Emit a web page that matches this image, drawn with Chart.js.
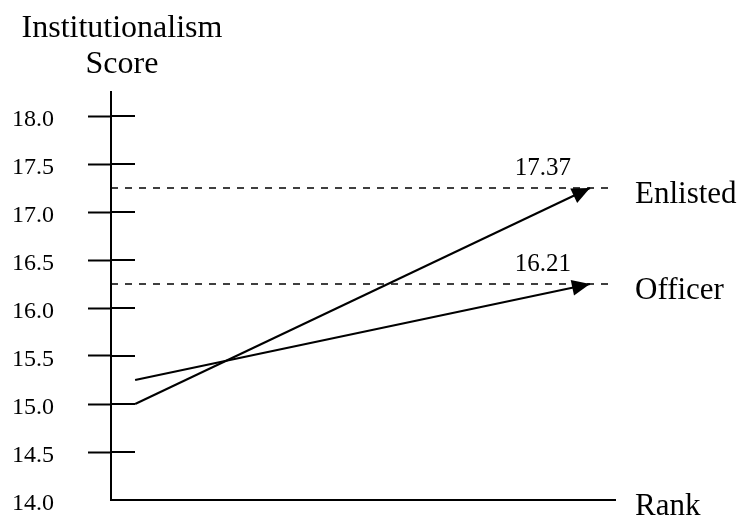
<!DOCTYPE html>
<html lang="en">
<head>
    <meta charset="UTF-8">
    <title>Institutionalism Score by Rank</title>
    <script src="https://cdn.jsdelivr.net/npm/chart.js"></script>
    <style>
        body {
            margin: 0;
            background: #fff;
        }
        .chart-container {
            position: relative;
            width: 742px;
            height: 519px;
        }
    </style>
</head>
<body>
    <div class="chart-container">
        <canvas id="rankChart"></canvas>
    </div>

    <script>
        // Data
        const yTicks = [14.0, 14.5, 15.0, 15.5, 16.0, 16.5, 17.0, 17.5, 18.0];
        const groups = ['Enlisted', 'Officer'];
        const startScores = [15.0, 15.25];     // left end of each arrow
        const endScores = [17.25, 16.25];      // arrow tips / dashed reference lines
        const endLabels = ['17.37', '16.21'];  // printed values
        const titleLines = ['Institutionalism', 'Score'];
        const xTitle = 'Rank';

        const X_MIN = -0.053, X_MAX = 1.055;
        const SERIF = "'Liberation Serif', 'Times New Roman', serif";

        const datasets = [];
        // dashed reference lines first so arrows sit on top
        endScores.forEach((v, i) => {
            datasets.push({
                label: groups[i] + ' ref',
                data: [{ x: X_MIN, y: v }, { x: X_MAX, y: v }],
                borderColor: '#000',
                borderWidth: 1.5,
                borderDash: [7, 7],
                pointRadius: 0,
                isRef: true
            });
        });
        groups.forEach((g, i) => {
            datasets.push({
                label: g,
                data: [{ x: 0, y: startScores[i] }, { x: 1, y: endScores[i] }],
                borderColor: '#000',
                borderWidth: 2,
                pointRadius: 0,
                isArrow: true,
                groupIndex: i
            });
        });

        // extras: cross tick marks, arrowheads, labels
        const decorations = {
            id: 'decorations',
            afterDatasetsDraw(chart) {
                const { ctx, chartArea, scales } = chart;
                const y = scales.y;
                ctx.save();

                // inner half of the cross ticks
                ctx.strokeStyle = '#000';
                ctx.lineWidth = 2;
                yTicks.forEach(v => {
                    if (v === y.min) return;
                    const py = Math.round(y.getPixelForValue(v));
                    ctx.beginPath();
                    ctx.moveTo(chartArea.left, py);
                    ctx.lineTo(chartArea.left + 24, py);
                    ctx.stroke();
                });

                // arrowheads + labels
                chart.data.datasets.forEach((ds, di) => {
                    if (!ds.isArrow) return;
                    const pts = chart.getDatasetMeta(di).data;
                    const a = pts[0], b = pts[pts.length - 1];
                    const ang = Math.atan2(b.y - a.y, b.x - a.x);
                    const len = 18, half = 8;
                    ctx.fillStyle = '#000';
                    ctx.beginPath();
                    ctx.moveTo(b.x, b.y);
                    ctx.lineTo(b.x - len * Math.cos(ang) + half * Math.sin(ang),
                               b.y - len * Math.sin(ang) - half * Math.cos(ang));
                    ctx.lineTo(b.x - len * Math.cos(ang) - half * Math.sin(ang),
                               b.y - len * Math.sin(ang) + half * Math.cos(ang));
                    ctx.closePath();
                    ctx.fill();

                    const gi = ds.groupIndex;
                    ctx.textBaseline = 'alphabetic';
                    ctx.font = '25px ' + SERIF;
                    ctx.textAlign = 'center';
                    ctx.fillText(endLabels[gi], b.x - 47, b.y - 13);
                    ctx.font = '31px ' + SERIF;
                    ctx.textAlign = 'left';
                    ctx.fillText(groups[gi], chartArea.right + 20, b.y + 15);
                });

                // axis names
                ctx.font = '31px ' + SERIF;
                ctx.textAlign = 'left';
                ctx.fillText(xTitle, chartArea.right + 20, chartArea.bottom + 15);
                ctx.font = '32px ' + SERIF;
                ctx.textAlign = 'center';
                ctx.fillText(titleLines[0], 122, 37);
                ctx.fillText(titleLines[1], 122, 73);
                ctx.restore();
            }
        };

        const noPad = s => {
            s.paddingTop = 0;
            s.paddingBottom = 0;
            s.paddingLeft = 0;
            s.paddingRight = 0;
        };

        const ctx = document.getElementById('rankChart').getContext('2d');
        const rankChart = new Chart(ctx, {
            type: 'line',
            data: { datasets: datasets },
            options: {
                responsive: true,
                maintainAspectRatio: false,
                animation: false,
                layout: {
                    padding: { left: 12, top: 92, right: 127, bottom: 19 }
                },
                plugins: {
                    legend: { display: false },
                    tooltip: { enabled: false }
                },
                scales: {
                    x: {
                        type: 'linear',
                        min: X_MIN,
                        max: X_MAX,
                        grid: { display: false },
                        ticks: { display: false },
                        border: { display: true, color: '#000', width: 2 },
                        afterFit: s => { s.height = 0; noPad(s); }
                    },
                    y: {
                        min: 14,
                        max: 18.25,
                        afterBuildTicks: s => { s.ticks = yTicks.map(v => ({ value: v })); },
                        afterFit: s => { s.width = 99; noPad(s); },
                        grid: {
                            drawOnChartArea: false,
                            drawTicks: true,
                            tickLength: 23,
                            tickWidth: 2,
                            tickColor: c => (c.tick && c.tick.value === 14 ? 'rgba(0,0,0,0)' : '#000')
                        },
                        border: { display: true, color: '#000', width: 2 },
                        ticks: {
                            color: '#000',
                            crossAlign: 'far',
                            padding: 10,
                            labelOffset: 4,
                            font: { family: SERIF, size: 24 },
                            callback: v => v.toFixed(1)
                        }
                    }
                }
            },
            plugins: [decorations]
        });
    </script>
</body>
</html>
